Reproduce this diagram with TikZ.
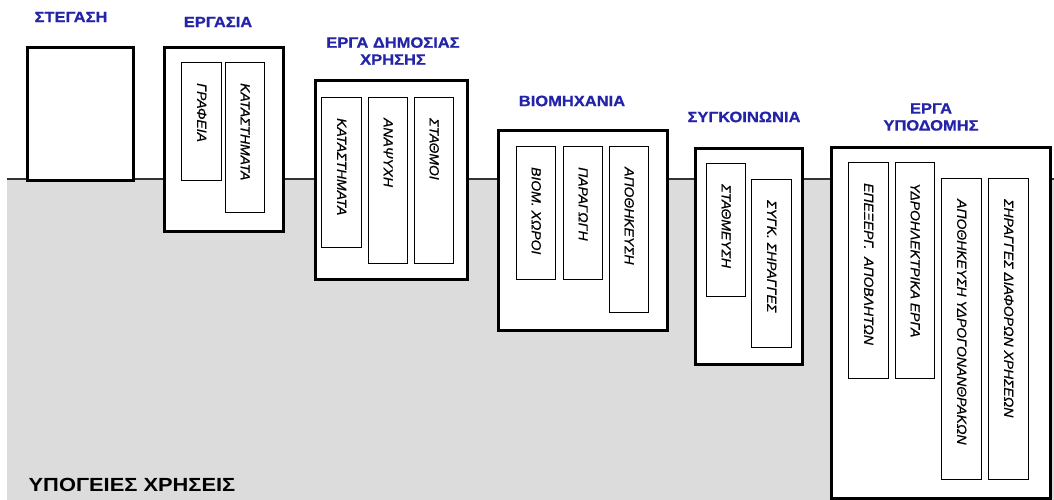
\documentclass[tikz,border=0pt]{standalone}
\usepackage{fontspec}
\usetikzlibrary{calc}
\setmainfont{Liberation Sans}
\definecolor{titleblue}{HTML}{2424A8}
\definecolor{ground}{HTML}{DCDCDC}
\newcommand{\ttl}[1]{\scalebox{1.1}[1]{#1}}
\newcommand{\lbltxt}[1]{\scalebox{1.16}[1.1]{#1}}
\begin{document}
\begin{tikzpicture}[x=1pt,y=-1pt,
  outerbox/.style={draw=black, line width=3pt, fill=white, inner sep=0pt, anchor=north west},
  innerbox/.style={draw=black, line width=1.4pt, fill=white, inner sep=0pt, anchor=north west},
  lbl/.style={rotate=-90, anchor=west, inner sep=0pt,
    font=\itshape\fontsize{12}{12}\selectfont\addfontfeature{FakeBold=0.6}},
  title/.style={text=titleblue, align=center, inner sep=0pt,
    font=\bfseries\fontsize{15}{17}\selectfont\addfontfeature{FakeBold=0.8}}]
\useasboundingbox (0,0) rectangle (1054,500);
% underground zone and ground level
\fill[ground] (7,179) rectangle (1054,500);
\coordinate (gl) at (7,179);
\coordinate (gr) at (1054,179);
\draw[line width=1.2pt, black!80] (gl) -- (gr);

% housing
\node[outerbox, minimum width=106pt, minimum height=133pt] (stegasi) at (26,46) {};
\node[title] (tstegasi) at (71,17) {\ttl{ΣΤΕΓΑΣΗ}};

% work
\node[outerbox, minimum width=119pt, minimum height=184pt] (ergasia) at (163,46) {};
\node[title] (tergasia) at (218,22) {\ttl{ΕΡΓΑΣΙΑ}};
\node[innerbox, minimum width=40pt, minimum height=118pt] (e1) at (181,62) {};
\node[innerbox, minimum width=39pt, minimum height=150pt] (e2) at (225,62) {};
\node[lbl] (le1) at ($(e1.north)+(0,21)$) {\lbltxt{ΓΡΑΦΕΙΑ}};
\node[lbl] (le2) at ($(e2.north)+(0,21)$) {\lbltxt{ΚΑΤΑΣΤΗΜΑΤΑ}};

% public use
\node[outerbox, minimum width=152pt, minimum height=199pt] (dimosia) at (314,79) {};
\node[title] (tdimosia) at (393,51) {\ttl{ΕΡΓΑ ΔΗΜΟΣΙΑΣ}\\\ttl{ΧΡΗΣΗΣ}};
\node[innerbox, minimum width=40pt, minimum height=150pt] (d1) at (321,97) {};
\node[innerbox, minimum width=39pt, minimum height=166pt] (d2) at (368,97) {};
\node[innerbox, minimum width=39pt, minimum height=166pt] (d3) at (414,97) {};
\node[lbl] (ld1) at ($(d1.north)+(0,21)$) {\lbltxt{ΚΑΤΑΣΤΗΜΑΤΑ}};
\node[lbl] (ld2) at ($(d2.north)+(0,21)$) {\lbltxt{ΑΝΑΨΥΧΗ}};
\node[lbl] (ld3) at ($(d3.north)+(0,21)$) {\lbltxt{ΣΤΑΘΜΟΙ}};

% industry
\node[outerbox, minimum width=169pt, minimum height=200pt] (viom) at (497,129) {};
\node[title] (tviom) at (572,101) {\ttl{ΒΙΟΜΗΧΑΝΙΑ}};
\node[innerbox, minimum width=39pt, minimum height=133pt] (b1) at (516,146) {};
\node[innerbox, minimum width=39pt, minimum height=133pt] (b2) at (563,146) {};
\node[innerbox, minimum width=39pt, minimum height=166pt] (b3) at (609,146) {};
\node[lbl] (lb1) at ($(b1.north)+(0,21)$) {\lbltxt{ΒΙΟΜ. ΧΩΡΟΙ}};
\node[lbl] (lb2) at ($(b2.north)+(0,21)$) {\lbltxt{ΠΑΡΑΓΩΓΗ}};
\node[lbl] (lb3) at ($(b3.north)+(0,21)$) {\lbltxt{ΑΠΟΘΗΚΕΥΣΗ}};

% transport
\node[outerbox, minimum width=107pt, minimum height=216pt] (sygk) at (694,147) {};
\node[title] (tsygk) at (744,117) {\ttl{ΣΥΓΚΟΙΝΩΝΙΑ}};
\node[innerbox, minimum width=39pt, minimum height=133pt] (s1) at (706,163) {};
\node[innerbox, minimum width=40pt, minimum height=168pt] (s2) at (751,179) {};
\node[lbl] (ls1) at ($(s1.north)+(0,21)$) {\lbltxt{ΣΤΑΘΜΕΥΣΗ}};
\node[lbl] (ls2) at ($(s2.north)+(0,21)$) {\lbltxt{ΣΥΓΚ. ΣΗΡΑΓΓΕΣ}};

% infrastructure
\node[outerbox, minimum width=219pt, minimum height=351pt] (ypod) at (830,146) {};
\node[title] (typod) at (931,117) {\ttl{ΕΡΓΑ}\\\ttl{ΥΠΟΔΟΜΗΣ}};
\node[innerbox, minimum width=40pt, minimum height=216pt] (y1) at (848,162) {};
\node[innerbox, minimum width=39pt, minimum height=216pt] (y2) at (895,162) {};
\node[innerbox, minimum width=40pt, minimum height=301pt] (y3) at (941,178) {};
\node[innerbox, minimum width=40pt, minimum height=301pt] (y4) at (988,178) {};
\node[lbl] (ly1) at ($(y1.north)+(0,21)$) {\lbltxt{ΕΠΕΞΕΡΓ. \ ΑΠΟΒΛΗΤΩΝ}};
\node[lbl] (ly2) at ($(y2.north)+(0,21)$) {\lbltxt{ΥΔΡΟΗΛΕΚΤΡΙΚΑ ΕΡΓΑ}};
\node[lbl] (ly3) at ($(y3.north)+(0,21)$) {\lbltxt{ΑΠΟΘΗΚΕΥΣΗ ΥΔΡΟΓΟΝΑΝΘΡΑΚΩΝ}};
\node[lbl] (ly4) at ($(y4.north)+(0,21)$) {\lbltxt{ΣΗΡΑΓΓΕΣ ΔΙΑΦΟΡΩΝ ΧΡΗΣΕΩΝ}};

% underground uses caption
\node[inner sep=0pt, font=\bfseries\fontsize{19}{19}\selectfont] (ypogeies) at (132,485) {\scalebox{1.15}[1]{ΥΠΟΓΕΙΕΣ ΧΡΗΣΕΙΣ}};
\end{tikzpicture}
\end{document}
